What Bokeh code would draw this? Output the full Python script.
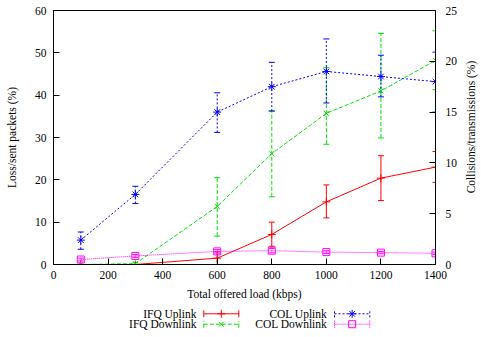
import math
from bokeh.plotting import figure
from bokeh.models import Range1d, LinearAxis, Whisker, TeeHead, ColumnDataSource, FixedTicker
from bokeh.layouts import column, row
from bokeh.core.properties import value
from bokeh.embed import file_html
from bokeh.resources import INLINE

# ---- data ----
load = [100, 300, 600, 800, 1000, 1200, 1400]

ifq_up = [0, 0, 1.5, 7.1, 14.8, 20.4, 23.0]
ifq_up_lo = [0, 0, 0.0, 4.3, 11.0, 15.1, 19.4]
ifq_up_hi = [0, 0, 3.0, 10.0, 18.8, 25.7, 26.7]

ifq_down = [0, 0.2, 13.7, 26.2, 35.7, 41.0, 48.2]
ifq_down_lo = [0, 0.0, 6.7, 16.0, 28.4, 29.9, 41.3]
ifq_down_hi = [0, 0.4, 20.5, 36.3, 46.5, 54.6, 55.2]

col_up = [2.4, 6.9, 15.0, 17.5, 19.0, 18.5, 18.0]
col_up_lo = [1.5, 6.0, 13.0, 15.1, 15.9, 16.5, 15.0]
col_up_hi = [3.2, 7.7, 16.9, 19.9, 22.2, 20.6, 20.9]

col_down = [0.49, 0.84, 1.29, 1.36, 1.22, 1.17, 1.10]
col_down_lo = [0.35, 0.70, 1.12, 1.15, 1.08, 1.05, 0.98]
col_down_hi = [0.63, 0.98, 1.46, 1.57, 1.36, 1.29, 1.22]

x_ticks = [0, 200, 400, 600, 800, 1000, 1200, 1400]
left_ticks = [0, 10, 20, 30, 40, 50, 60]
right_ticks = [0, 5, 10, 15, 20, 25]

series_names = ["IFQ Uplink", "IFQ Downlink", "COL Uplink", "COL Downlink"]
right_title = ["Collisions/transmissions (%)"]

FONT_NAME = "Liberation Serif"
FS = "11.5px"

RED = "#ff0000"
GREEN = "#00e000"
BLUE = "#0000ff"
MAGENTA = "#ff00ff"

MAIN_W, MAIN_H = 460, 302

p = figure(width=MAIN_W, height=MAIN_H, x_range=Range1d(0, 1400), y_range=Range1d(0, 60),
           min_border_left=53, min_border_right=24, min_border_top=10, min_border_bottom=35,
           output_backend="svg", toolbar_location=None)
p.extra_y_ranges = {"right": Range1d(0, 25)}
p.grid.visible = False
p.outline_line_color = "black"
p.outline_line_width = 1
p.background_fill_color = "white"
p.border_fill_color = "white"

raxis = LinearAxis(y_range_name="right")
p.add_layout(raxis, "right")

p.xaxis.ticker = FixedTicker(ticks=x_ticks)
p.yaxis[0].ticker = FixedTicker(ticks=left_ticks)
raxis.ticker = FixedTicker(ticks=right_ticks)

p.xaxis.axis_label = "Total offered load (kbps)"
p.yaxis[0].axis_label = "Loss/sent packets (%)"

for ax in p.axis:
    ax.major_tick_in = 6
    ax.major_tick_out = 0
    ax.minor_tick_line_color = None
    ax.axis_line_color = "black"
    ax.major_tick_line_color = "black"
    ax.major_label_text_font = FONT_NAME
    ax.major_label_text_font_size = FS
    ax.major_label_text_color = "black"
    ax.axis_label_text_font = FONT_NAME
    ax.axis_label_text_font_size = FS
    ax.axis_label_text_font_style = "normal"
    ax.axis_label_text_color = "black"

p.xaxis.major_label_standoff = 6
p.xaxis.axis_label_standoff = 6
p.yaxis[0].major_label_standoff = 7
p.yaxis[0].axis_label_standoff = 14
raxis.major_label_standoff = 10

def plot_series(y, lo, hi, color, dash, marker, msize, yname=None):
    src = ColumnDataSource(dict(x=load, y=y, lo=lo, hi=hi))
    kw = {}
    if yname:
        kw["y_range_name"] = yname
    p.line("x", "y", source=src, line_color=color, line_width=1, line_dash=dash, **kw)
    w = Whisker(source=src, base="x", upper="hi", lower="lo", dimension="height",
                line_color=color, line_width=1, line_dash=dash,
                upper_head=TeeHead(size=6, line_color=color, line_width=1),
                lower_head=TeeHead(size=6, line_color=color, line_width=1), **kw)
    p.add_layout(w)
    p.scatter("x", "y", source=src, marker=marker, size=msize, line_color=color,
              fill_color=None, line_width=1, **kw)

plot_series(ifq_up, ifq_up_lo, ifq_up_hi, RED, "solid", "cross", 8)
plot_series(ifq_down, ifq_down_lo, ifq_down_hi, GREEN, "4 2", "x", 7)
plot_series(col_up, col_up_lo, col_up_hi, BLUE, "2 2", "asterisk", 8, "right")
plot_series(col_down, col_down_lo, col_down_hi, MAGENTA, "1 1", "square", 7, "right")

# ---- right-hand axis title (separate strip so it reads bottom-to-top) ----
RW = 481 - MAIN_W
rfig = figure(width=RW, height=MAIN_H, x_range=Range1d(0, RW), y_range=Range1d(0, MAIN_H),
              x_axis_type=None, y_axis_type=None, min_border=0,
              output_backend="svg", toolbar_location=None)
rfig.grid.visible = False
rfig.outline_line_color = None
rfig.border_fill_color = "white"
rfig.background_fill_color = "white"
rfig.text(x=[470 - MAIN_W], y=[MAIN_H - 138.6], text=right_title, angle=math.pi / 2,
          text_align="center", text_baseline="middle",
          text_font=value(FONT_NAME), text_font_size=FS, text_color="black")

# ---- legend (gnuplot style: text, then sample) ----
leg = figure(width=481, height=337 - MAIN_H, x_range=Range1d(0, 481), y_range=Range1d(0, 337 - MAIN_H),
             x_axis_type=None, y_axis_type=None, min_border=0,
             output_backend="svg", toolbar_location=None)
leg.grid.visible = False
leg.outline_line_color = None
leg.border_fill_color = "white"
leg.background_fill_color = "white"

styles = [(RED, "solid", "cross", 8), (GREEN, "4 2", "x", 7),
          (BLUE, "2 2", "asterisk", 8), (MAGENTA, "1 1", "square", 7)]
text_right = [196, 196, 326.7, 326.7]
row_y = [23.7, 13.3, 23.7, 13.3]
samp_x0 = [203.3, 203.3, 334.0, 334.0]
samp_x1 = [238.3, 238.3, 369.3, 369.3]

leg.text(x=text_right, y=row_y, text=series_names, text_align="right", text_baseline="middle",
         text_font=value(FONT_NAME), text_font_size=FS, text_color="black")
for i, (c, d, m, s) in enumerate(styles):
    leg.segment(x0=[samp_x0[i]], y0=[row_y[i]], x1=[samp_x1[i]], y1=[row_y[i]],
                line_color=c, line_dash=d, line_width=1)
    leg.segment(x0=[samp_x0[i], samp_x1[i]], y0=[row_y[i] - 3.5] * 2,
                x1=[samp_x0[i], samp_x1[i]], y1=[row_y[i] + 3.5] * 2,
                line_color=c, line_dash=d, line_width=1)
    leg.scatter(x=[(samp_x0[i] + samp_x1[i]) / 2], y=[row_y[i]], marker=m, size=s,
                line_color=c, fill_color=None, line_width=1)

layout = column(row(p, rfig, spacing=0), leg, spacing=0)
open("out.html", "w").write(file_html(layout, INLINE))
